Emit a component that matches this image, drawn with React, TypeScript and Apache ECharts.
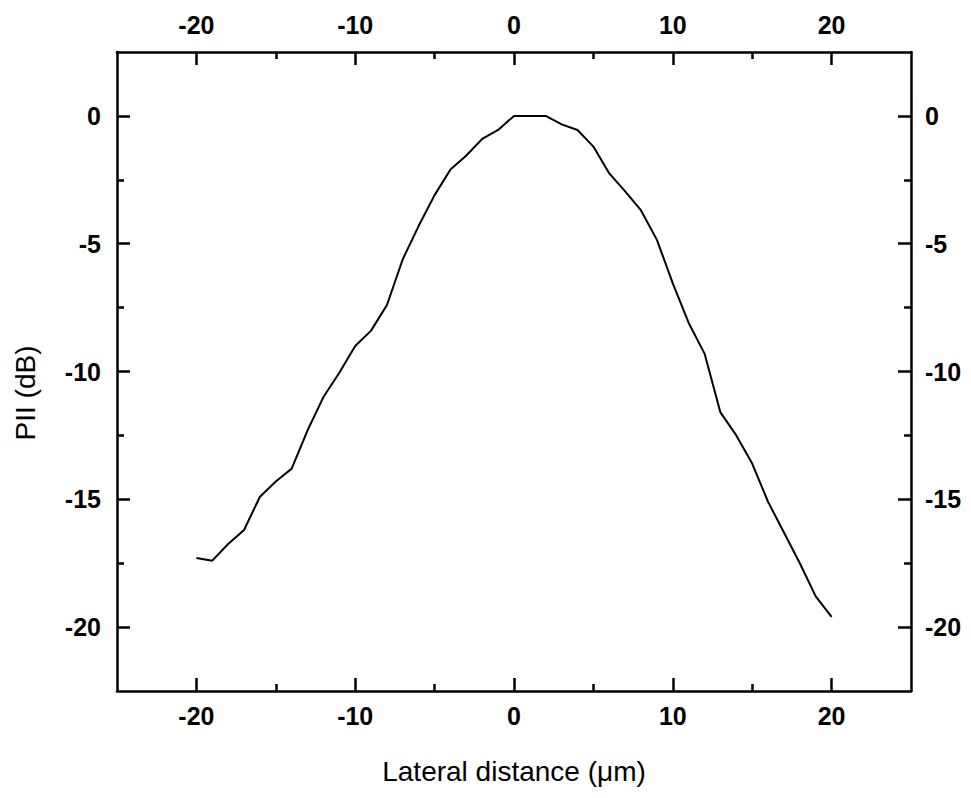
import React, { useEffect, useRef } from "react";
import * as echarts from "echarts";

const xValues = [-20, -19, -18, -17, -16, -15, -14, -13, -12, -11, -10, -9, -8, -7, -6, -5, -4, -3, -2, -1, 0, 1, 2, 3, 4, 5, 6, 7, 8, 9, 10, 11, 12, 13, 14, 15, 16, 17, 18, 19, 20];
const piiValues = [-17.3, -17.4, -16.75, -16.2, -14.9, -14.3, -13.8, -12.3, -11.0, -10.05, -9.0, -8.4, -7.4, -5.6, -4.3, -3.1, -2.1, -1.55, -0.9, -0.55, 0, 0, 0, -0.33, -0.55, -1.2, -2.25, -2.95, -3.7, -4.85, -6.55, -8.1, -9.3, -11.6, -12.5, -13.6, -15.1, -16.3, -17.5, -18.8, -19.6];
const xMajorTicks = [-20, -10, 0, 10, 20];
const xMinorTicks = [-15, -5, 5, 15];
const yMajorTicks = [-20, -15, -10, -5, 0];
const yMinorTicks = [-17.5, -12.5, -7.5, -2.5];
const xTitle = "Lateral distance (μm)";
const yTitle = "PII (dB)";

const FONT = "'Liberation Sans', Arial, Helvetica, sans-serif";
const LINE_W = 2.5;

export default function App() {
  const ref = useRef<HTMLDivElement>(null);
  useEffect(() => {
    if (!ref.current) return;
    const chart = echarts.init(ref.current, null, { renderer: "svg" });
    const gridRect = { left: 117, right: 60, top: 52, bottom: 107 };
    const labelStyle = { color: "#000", fontFamily: FONT, fontWeight: "bold" as const, fontSize: 25 };
    const majorX = (position: "bottom" | "top", margin: number) => ({
      type: "value",
      gridIndex: 0,
      position,
      min: -25,
      max: 25,
      interval: 5,
      axisLine: { show: true, onZero: false, lineStyle: { color: "#000", width: LINE_W } },
      axisTick: { show: true, inside: true, length: 13, customValues: xMajorTicks, lineStyle: { color: "#000", width: LINE_W } },
      axisLabel: { show: true, margin, customValues: xMajorTicks, ...labelStyle },
      splitLine: { show: false },
    });
    const minorX = (position: "bottom" | "top") => ({
      type: "value",
      gridIndex: 1,
      position,
      min: -25,
      max: 25,
      interval: 5,
      axisLine: { show: false, onZero: false },
      axisTick: { show: true, inside: true, length: 7, customValues: xMinorTicks, lineStyle: { color: "#000", width: LINE_W } },
      axisLabel: { show: false, customValues: xMinorTicks },
      splitLine: { show: false },
    });
    const majorY = (position: "left" | "right", margin: number) => ({
      type: "value",
      gridIndex: 0,
      position,
      min: -22.5,
      max: 2.5,
      interval: 2.5,
      axisLine: { show: true, onZero: false, lineStyle: { color: "#000", width: LINE_W } },
      axisTick: { show: true, inside: true, length: 13, customValues: yMajorTicks, lineStyle: { color: "#000", width: LINE_W } },
      axisLabel: { show: true, margin, customValues: yMajorTicks, ...labelStyle },
      splitLine: { show: false },
    });
    const minorY = (position: "left" | "right") => ({
      type: "value",
      gridIndex: 1,
      position,
      min: -22.5,
      max: 2.5,
      interval: 2.5,
      axisLine: { show: false, onZero: false },
      axisTick: { show: true, inside: true, length: 7, customValues: yMinorTicks, lineStyle: { color: "#000", width: LINE_W } },
      axisLabel: { show: false, customValues: yMinorTicks },
      splitLine: { show: false },
    });
    const bottomX: any = majorX("bottom", 12);
    bottomX.name = xTitle;
    bottomX.nameLocation = "middle";
    bottomX.nameGap = 66;
    bottomX.nameTextStyle = { color: "#000", fontFamily: FONT, fontSize: 28 };
    chart.setOption({
      animation: false,
      backgroundColor: "#fff",
      grid: [
        { ...gridRect, containLabel: false },
        { ...gridRect, containLabel: false },
      ],
      xAxis: [bottomX, majorX("top", 15), minorX("bottom"), minorX("top")],
      yAxis: [majorY("left", 16), majorY("right", 14), minorY("left"), minorY("right")],
      graphic: [
        {
          type: "text",
          x: 25,
          y: 393,
          rotation: Math.PI / 2,
          style: {
            text: yTitle,
            fill: "#000",
            font: `28px ${FONT}`,
            align: "center",
            verticalAlign: "middle",
          },
        },
      ],
      series: [
        {
          type: "line",
          xAxisIndex: 0,
          yAxisIndex: 0,
          data: xValues.map((x, i) => [x, piiValues[i]]),
          showSymbol: false,
          symbol: "none",
          lineStyle: { color: "#000", width: 2 },
        },
      ],
    });
    return () => chart.dispose();
  }, []);
  return <div ref={ref} style={{ width: 971, height: 798, position: "absolute", left: 0, top: 0 }} />;
}
